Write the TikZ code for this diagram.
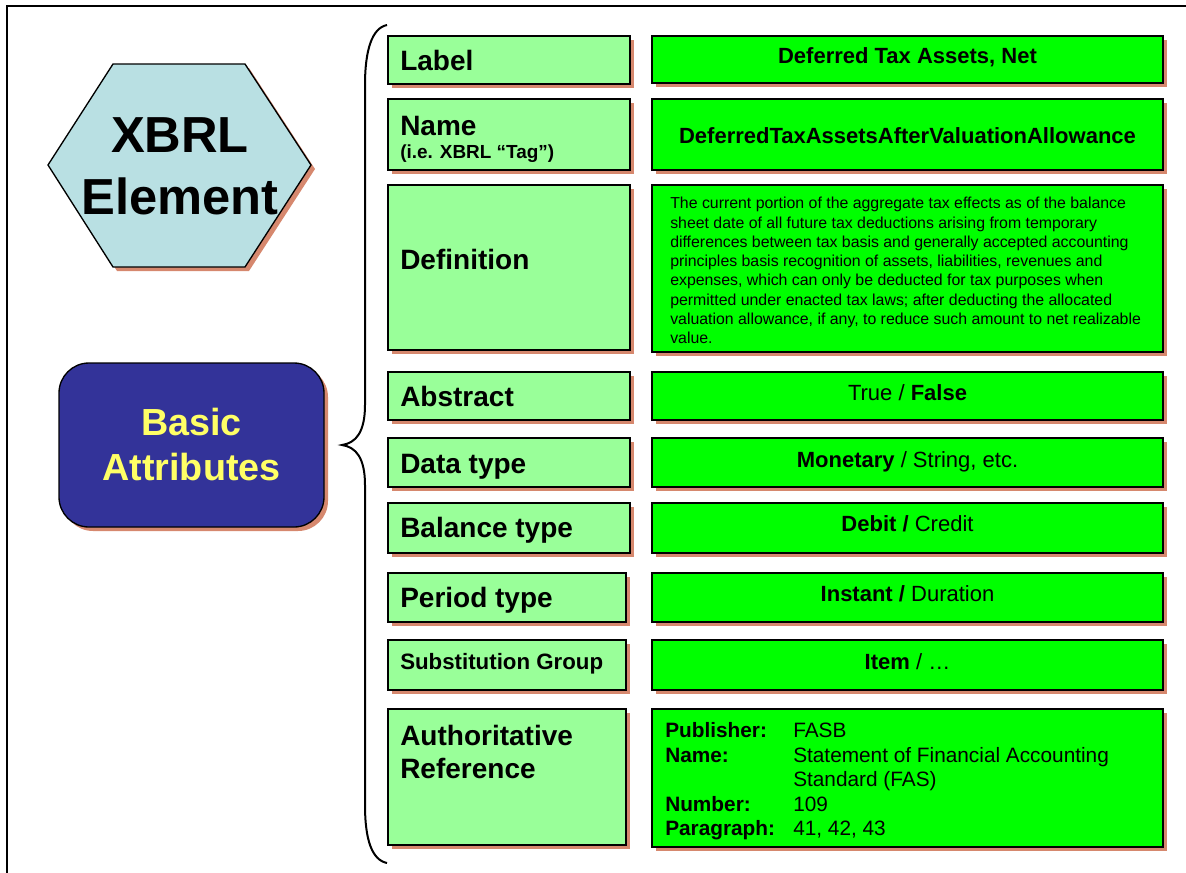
\documentclass[tikz,border=0pt]{standalone}
\usepackage{fontspec}
\setmainfont{Liberation Sans}
\usepackage{tikz}
\usetikzlibrary{shadows}

\definecolor{keygreen}{RGB}{153,255,153}
\definecolor{valgreen}{RGB}{0,255,0}
\definecolor{hexblue}{RGB}{185,224,227}
\definecolor{attrblue}{RGB}{51,51,153}
\definecolor{attryellow}{RGB}{255,255,102}
\definecolor{shadowred}{RGB}{214,136,110}

\begin{document}
\begin{tikzpicture}[x=0.75pt,y=0.75pt,yscale=-1,xscale=1,
  boxshadow/.style={drop shadow={shadow xshift=3pt, shadow yshift=-3pt, fill=shadowred, opacity=1}},
  keybox/.style={draw=black, line width=1pt, fill=keygreen, anchor=north west, inner sep=0pt, outer sep=0pt, boxshadow},
  valbox/.style={keybox, fill=valgreen, minimum width=383.25pt},
  keytext/.style={anchor=base west, inner sep=0pt, font=\fontsize{21}{25}\selectfont\bfseries},
  valtext/.style={anchor=base, inner sep=0pt, font=\fontsize{16.5}{20}\selectfont},
  valbold/.style={valtext, font=\fontsize{16.5}{20}\selectfont\bfseries}]
\useasboundingbox (0,0) rectangle (1186,872);
% frame
\draw [line width=1.5pt] (1190,6) -- (7,6) -- (7,880);
% hexagon
\draw [line width=1pt, fill=hexblue, boxshadow] (48,165) -- (113,64) -- (245,64) -- (311,165) -- (245,267) -- (113,267) -- cycle;
\node [inner sep=0pt, align=center, font=\fontsize{38}{46.5}\selectfont\bfseries] (xbrl) at (180,166) {XBRL\\Element};
% basic attributes
\node [draw=black, line width=1pt, rounded corners=22.5pt, fill=attrblue, minimum width=198.75pt, minimum height=123pt, text=attryellow, align=center, font=\fontsize{28.3}{33.75}\selectfont\bfseries, boxshadow] (basic) at (191.5,445) {Basic\\Attributes};
% brace
\draw [line width=1.5pt] (387,25) .. controls (372,28) and (365,50) .. (365,85) -- (365,405) .. controls (365,432) and (356,443) .. (342,445) .. controls (356,447) and (365,458) .. (365,485) -- (365,805) .. controls (365,840) and (372,860) .. (387,863);

% label
\node [keybox, minimum width=181.5pt, minimum height=36pt] (labelK) at (388,36) {};
\node [valbox, minimum height=35.25pt] (labelV) at (652,36) {};
\node [keytext] (labelKT) at (400,70) {Label};
\node [valbold] (labelVT) at (907.5,63) {Deferred Tax Assets, Net};
% name
\node [keybox, minimum width=181.5pt, minimum height=53.25pt] (nameK) at (388,99) {};
\node [valbox, minimum height=53.25pt] (nameV) at (652,99) {};
\node [keytext] (nameKT) at (400,135) {Name};
\node [keytext, font=\fontsize{14.2}{17}\selectfont\bfseries] (nameKS) at (400,158) {(i.e. XBRL “Tag”)};
\node [valbold] (nameVT) at (907.5,143) {DeferredTaxAssetsAfterValuationAllowance};
% definition
\node [keybox, minimum width=181.5pt, minimum height=123.75pt] (defK) at (388,185) {};
\node [valbox, minimum height=125.25pt] (defV) at (652,185) {};
\node [keytext] (defKT) at (400,269) {Definition};
\node [anchor=north west, inner sep=0pt, align=left, font=\fontsize{11.9}{14.46}\selectfont] (defVT) at (670,197) {The current portion of the aggregate tax effects as of the balance\\sheet date of all future tax deductions arising from temporary\\differences between tax basis and generally accepted accounting\\principles basis recognition of assets, liabilities, revenues and\\expenses, which can only be deducted for tax purposes when\\permitted under enacted tax laws; after deducting the allocated\\valuation allowance, if any, to reduce such amount to net realizable\\value.};
% abstract
\node [keybox, minimum width=181.5pt, minimum height=36pt] (absK) at (388,372) {};
\node [valbox, minimum height=36pt] (absV) at (652,372) {};
\node [keytext] (absKT) at (400,406) {Abstract};
\node [valtext] (absVT) at (907.5,400) {True / \textbf{False}};
% data type
\node [keybox, minimum width=181.5pt, minimum height=36.75pt] (dataK) at (388,438) {};
\node [valbox, minimum height=36.75pt] (dataV) at (652,438) {};
\node [keytext] (dataKT) at (400,473) {Data type};
\node [valtext] (dataVT) at (907.5,467) {\textbf{Monetary} / String, etc.};
% balance type
\node [keybox, minimum width=181.5pt, minimum height=37.5pt] (balK) at (388,503) {};
\node [valbox, minimum height=37.5pt] (balV) at (652,503) {};
\node [keytext] (balKT) at (400,537) {Balance type};
\node [valtext] (balVT) at (907.5,531) {\textbf{Debit /} Credit};
% period type
\node [keybox, minimum width=178.5pt, minimum height=36.75pt] (perK) at (388,573) {};
\node [valbox, minimum height=36.75pt] (perV) at (652,573) {};
\node [keytext] (perKT) at (400,607) {Period type};
\node [valtext] (perVT) at (907.5,601) {\textbf{Instant /} Duration};
% substitution group
\node [keybox, minimum width=178.5pt, minimum height=37.5pt] (subK) at (388,640) {};
\node [valbox, minimum height=37.5pt] (subV) at (652,640) {};
\node [keytext, font=\fontsize{16.7}{20}\selectfont\bfseries] (subKT) at (400,669) {Substitution Group};
\node [valtext] (subVT) at (907.5,669) {\textbf{Item} / …};
% authoritative reference
\node [keybox, minimum width=178.5pt, minimum height=102pt] (refK) at (388,709) {};
\node [valbox, minimum height=103.5pt] (refV) at (652,709) {};
\node [keytext] (refKT) at (400,745) {Authoritative};
\node [keytext] (refKS) at (400,778) {Reference};
\node [anchor=base west, inner sep=0pt, font=\fontsize{15.6}{18.4}\selectfont] (refVT) at (665,737.5) {\begin{tabular}[t]{@{}p{96pt}@{}l@{}}
\textbf{Publisher:} & FASB\\
\textbf{Name:} & Statement of Financial Accounting\\
 & Standard (FAS)\\
\textbf{Number:} & 109\\
\textbf{Paragraph:} & 41, 42, 43
\end{tabular}};
\end{tikzpicture}
\end{document}
